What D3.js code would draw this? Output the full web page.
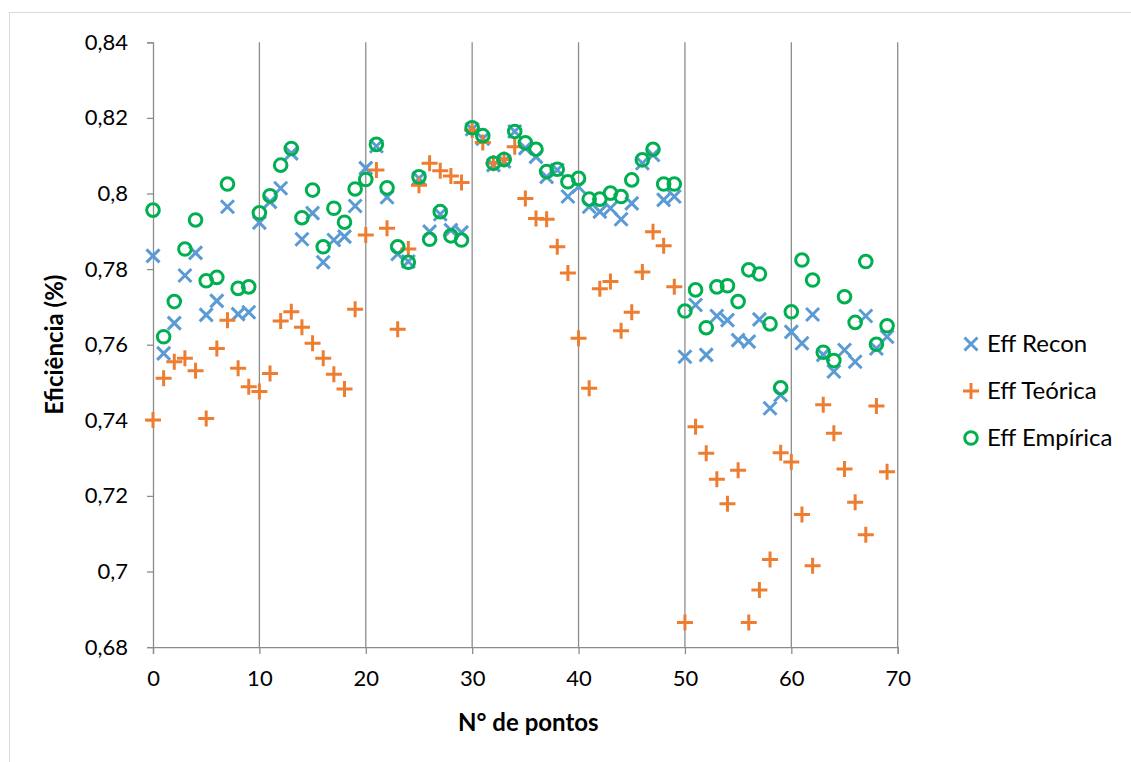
<!DOCTYPE html>
<html>
<head>
<meta charset="utf-8">
<script src="https://cdn.jsdelivr.net/npm/d3@7"></script>
<style>
  html, body { margin: 0; padding: 0; background: #fff; }
  svg text { font-family: Lato, "Open Sans", "Liberation Sans", sans-serif; fill: #000; }
</style>
</head>
<body>
<svg id="chart" width="1131" height="762"></svg>
<script>
const effRecon = [0.7835,0.7577,0.7657,0.7783,0.7843,0.7679,0.7716,0.7965,0.7681,0.7686,
  0.7923,0.7978,0.8014,0.8106,0.7879,0.7948,0.7818,0.7877,0.7886,0.7967,
  0.8067,0.8125,0.7990,0.7840,0.7820,0.8040,0.7899,0.7945,0.7903,0.7897,
  0.8170,0.8145,0.8075,0.8085,0.8164,0.8120,0.8097,0.8044,0.8062,0.7992,
  0.8018,0.7965,0.7952,0.7961,0.7932,0.7974,0.8080,0.8102,0.7983,0.7992,
  0.7568,0.7705,0.7573,0.7676,0.7665,0.7612,0.7608,0.7667,0.7432,0.7467,
  0.7634,0.7604,0.7680,0.7573,0.7529,0.7586,0.7555,0.7676,0.7590,0.7621];
const effTeorica = [0.7401,0.7511,0.7555,0.7564,0.7531,0.7405,0.7590,0.7665,0.7538,0.7489,
  0.7476,0.7524,0.7663,0.7687,0.7646,0.7604,0.7564,0.7522,0.7483,0.7694,
  0.7890,0.8062,0.7908,0.7641,0.7853,0.8022,0.8080,0.8060,0.8046,0.8029,
  0.8168,0.8135,0.8080,0.8090,0.8124,0.7987,0.7934,0.7932,0.7859,0.7790,
  0.7617,0.7485,0.7748,0.7767,0.7637,0.7686,0.7792,0.7899,0.7862,0.7753,
  0.6865,0.7383,0.7313,0.7244,0.7179,0.7268,0.6865,0.6951,0.7032,0.7314,
  0.7290,0.7151,0.7015,0.7441,0.7366,0.7271,0.7183,0.7097,0.7438,0.7264];
const effEmpirica = [0.7956,0.7621,0.7714,0.7853,0.7930,0.7769,0.7778,0.8025,0.7749,0.7753,
  0.7949,0.7994,0.8075,0.8119,0.7936,0.8009,0.7859,0.7961,0.7924,0.8012,
  0.8037,0.8130,0.8015,0.7859,0.7818,0.8044,0.7879,0.7952,0.7888,0.7877,
  0.8174,0.8153,0.8080,0.8090,0.8164,0.8134,0.8117,0.8058,0.8064,0.8031,
  0.8040,0.7985,0.7985,0.8001,0.7992,0.8036,0.8089,0.8117,0.8025,0.8025,
  0.7689,0.7745,0.7645,0.7753,0.7756,0.7714,0.7798,0.7787,0.7655,0.7486,
  0.7687,0.7824,0.7771,0.7580,0.7558,0.7727,0.7659,0.7820,0.7601,0.7650];
const xTicks = [0,10,20,30,40,50,60,70];
const yTicks = [0.68,0.70,0.72,0.74,0.76,0.78,0.80,0.82,0.84];
const seriesNames = ["Eff Recon","Eff Teórica","Eff Empírica"];
const seriesColors = ["#5B9BD5","#ED7D31","#00B050"];
const seriesShapes = ["x","plus","circle"];
const seriesData = [effRecon, effTeorica, effEmpirica];

const svg = d3.select("#chart");
const x = d3.scaleLinear().domain([0,70]).range([153, 897.7]);
const y = d3.scaleLinear().domain([0.68,0.84]).range([647.1, 42.3]);
const fmt = d => String(+d.toFixed(2)).replace(".", ",");

// outer border
svg.append("rect").attr("x",9.5).attr("y",12.5).attr("width",1130).attr("height",760)
  .attr("fill","none").attr("stroke","#d9d9d9").attr("stroke-width",1);

const gridColor = "#8c8c8c";
// vertical gridlines
svg.append("g").selectAll("line").data(xTicks.slice(1)).join("line")
  .attr("x1",d=>x(d)).attr("x2",d=>x(d)).attr("y1",y(0.84)).attr("y2",y(0.68))
  .attr("stroke",gridColor).attr("stroke-width",1.3);

// y axis
const yAxis = svg.append("g").attr("transform",`translate(${x(0)},0)`)
  .call(d3.axisLeft(y).tickValues(yTicks).tickFormat(fmt).tickSize(6).tickPadding(19));
yAxis.select(".domain").attr("stroke",gridColor).attr("stroke-width",1.3);
yAxis.selectAll(".tick line").attr("stroke",gridColor).attr("stroke-width",1.3);
yAxis.selectAll("text").attr("font-size",22).attr("font-family","Lato, 'Open Sans', sans-serif").attr("fill","#000");

// x axis
const xAxis = svg.append("g").attr("transform",`translate(0,${y(0.68)})`)
  .call(d3.axisBottom(x).tickValues(xTicks).tickFormat(d3.format("d")).tickSize(7).tickPadding(16));
xAxis.select(".domain").attr("stroke",gridColor).attr("stroke-width",1.3);
xAxis.selectAll(".tick line").attr("stroke",gridColor).attr("stroke-width",1.3);
xAxis.selectAll("text").attr("font-size",22).attr("font-family","Lato, 'Open Sans', sans-serif").attr("fill","#000");

// axis titles
svg.append("text").attr("x",(x(0)+x(70))/2 + 3).attr("y",731).attr("text-anchor","middle")
  .attr("font-size",24).attr("font-weight","bold").text("N° de pontos");
svg.append("text").attr("transform",`translate(63,${(y(0.68)+y(0.84))/2}) rotate(-90)`)
  .attr("text-anchor","middle").attr("font-size",24).attr("font-weight","bold").text("Eficiência (%)");

function drawMarker(g, shape, color) {
  if (shape === "x") {
    const s = 6.5;
    g.append("path").attr("d",`M${-s},${-s}L${s},${s}M${-s},${s}L${s},${-s}`)
      .attr("stroke",color).attr("stroke-width",3).attr("fill","none");
  } else if (shape === "plus") {
    const s = 8;
    g.append("path").attr("d",`M${-s},0L${s},0M0,${-s}L0,${s}`)
      .attr("stroke",color).attr("stroke-width",3).attr("fill","none");
  } else {
    g.append("circle").attr("r",6.3).attr("fill","none").attr("stroke",color).attr("stroke-width",3);
  }
}

seriesData.forEach((data, si) => {
  const g = svg.append("g");
  g.selectAll("g").data(data).join("g")
    .attr("transform",(d,i)=>`translate(${x(i)},${y(d)})`)
    .each(function(){ drawMarker(d3.select(this), seriesShapes[si], seriesColors[si]); });
});

// legend
const legendY = [344, 391, 438];
seriesNames.forEach((name, i) => {
  const g = svg.append("g").attr("transform",`translate(971,${legendY[i]})`);
  drawMarker(g, seriesShapes[i], seriesColors[i]);
  svg.append("text").attr("x",987).attr("y",legendY[i]+8).attr("font-size",24).text(name);
});
</script>
</body>
</html>
